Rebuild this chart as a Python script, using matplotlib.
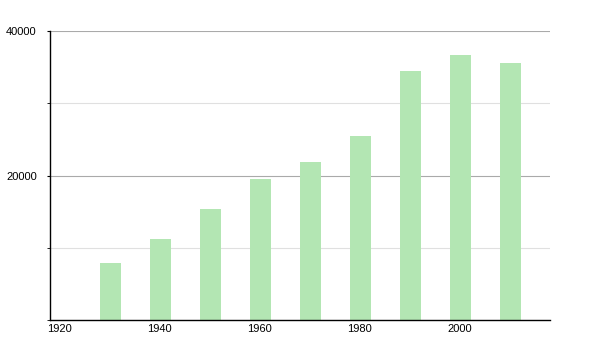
import matplotlib.pyplot as plt
import matplotlib.transforms as mtransforms
from matplotlib.ticker import MultipleLocator

plt.rcParams['font.family'] = ['Liberation Sans', 'DejaVu Sans']

years = [1930, 1940, 1950, 1960, 1970, 1980, 1990, 2000, 2010]
population = [7900, 11200, 15400, 19500, 21900, 25500, 34500, 36700, 35600]
xticks = [1920, 1940, 1960, 1980, 2000]
yticks = [20000, 40000]

fig = plt.figure(figsize=(6, 3.5), dpi=100)
ax = fig.add_axes([50/600, 30/350, 500/600, 289/350])

ax.bar(years, population, width=4.2, align='edge', color='#b3e6b3', zorder=2)

ax.set_xlim(1920, 2020)
ax.set_ylim(0, 40000)

ax.set_xticks(xticks)
ax.set_xticklabels([str(t) for t in xticks], ha='left')
ax.set_yticks(yticks)
ax.yaxis.set_minor_locator(MultipleLocator(10000))

ax.grid(axis='y', which='major', color='#aaaaaa', linewidth=0.8, zorder=0)
ax.grid(axis='y', which='minor', color='#e0e0e0', linewidth=0.8, zorder=0)

ax.tick_params(axis='x', length=0, pad=3, labelsize=8)
ax.tick_params(axis='y', which='major', length=2.5, pad=7, labelsize=8)
ax.tick_params(axis='y', which='minor', length=2.5)

# shift x labels a little to the left of their ticks
offset = mtransforms.ScaledTranslation(-2/72, 0, fig.dpi_scale_trans)
for lab in ax.get_xticklabels():
    lab.set_transform(lab.get_transform() + offset)

for s in ['top', 'right']:
    ax.spines[s].set_visible(False)
ax.spines['left'].set_linewidth(1)
ax.spines['bottom'].set_linewidth(1)

fig.savefig('out.png')
